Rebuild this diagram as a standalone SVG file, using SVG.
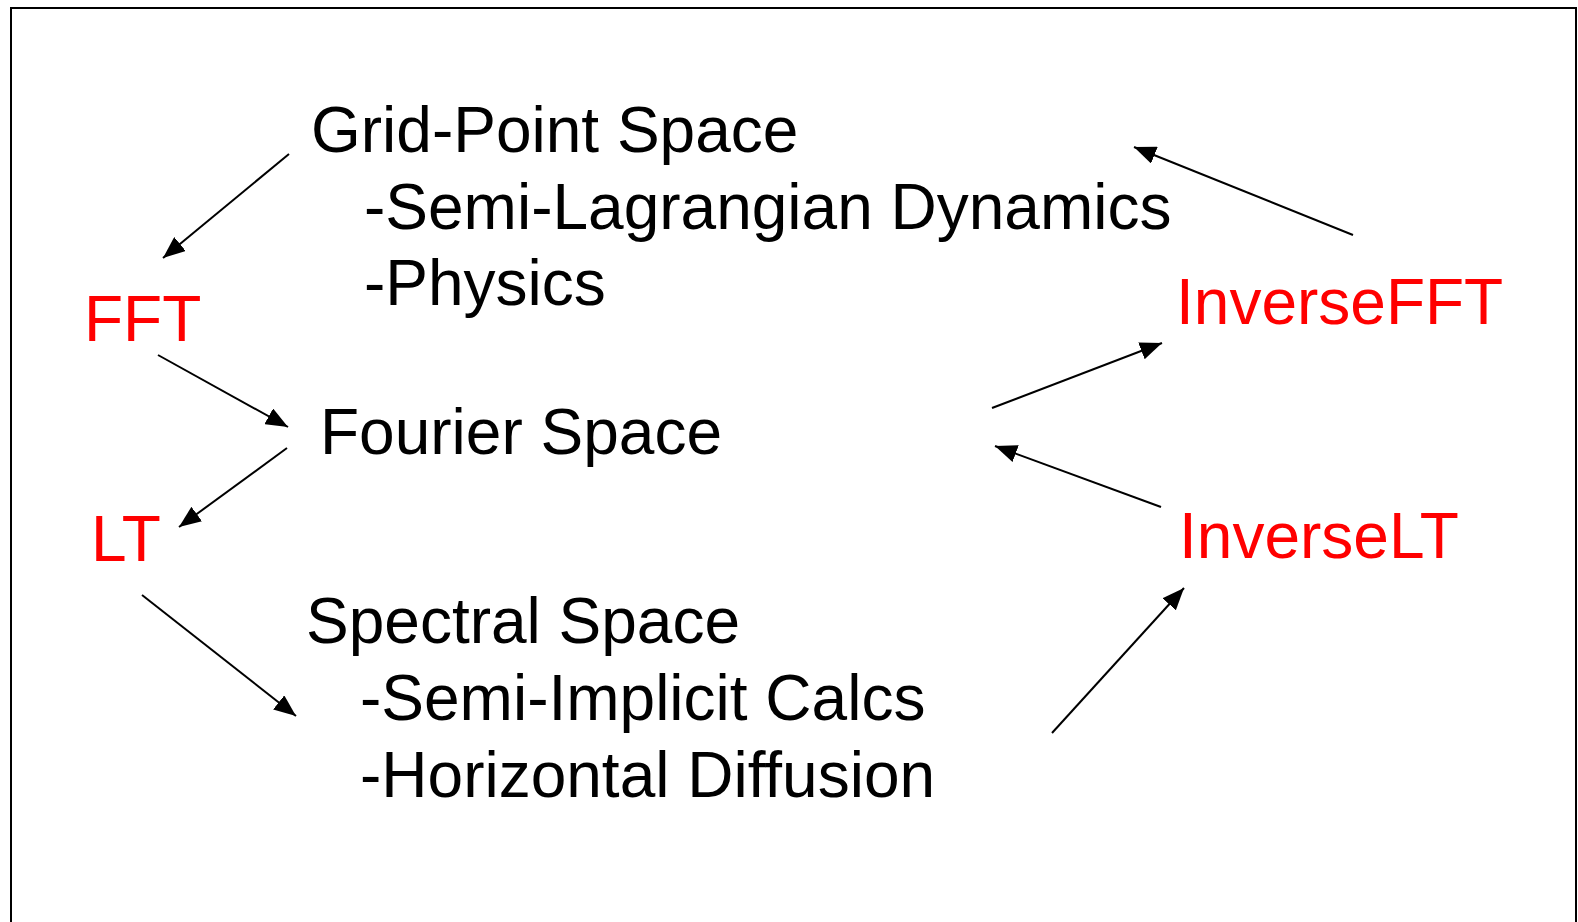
<svg xmlns="http://www.w3.org/2000/svg" width="1578" height="922" viewBox="0 0 1578 922">
<style>
.t{font-family:"Liberation Sans",Arial,sans-serif;font-size:64px;fill:#000}
.r{fill:#ff0000}
.c{stroke:#000;stroke-width:2;fill:none;marker-end:url(#ah)}
</style>
<defs>
<marker id="ah" markerUnits="userSpaceOnUse" markerWidth="24" markerHeight="18" refX="22" refY="9" orient="auto">
<path d="M0,0 L22,9 L0,18 Z" fill="#000"/>
</marker>
</defs>
<rect x="0" y="0" width="1578" height="922" fill="#fff"/>
<rect x="11" y="8" width="1565" height="940" fill="none" stroke="#000" stroke-width="2"/>
<g id="grid">
<text class="t" x="311" y="152">Grid-Point Space</text>
<text class="t" x="364" y="229">-Semi-Lagrangian Dynamics</text>
<text class="t" x="364" y="305">-Physics</text>
</g>
<g id="fft"><text class="t r" x="84" y="341">FFT</text></g>
<g id="fourier"><text class="t" x="320" y="454">Fourier Space</text></g>
<g id="lt"><text class="t r" x="91" y="561">LT</text></g>
<g id="spectral">
<text class="t" x="306" y="643">Spectral Space</text>
<text class="t" x="360" y="720">-Semi-Implicit Calcs</text>
<text class="t" x="360" y="797">-Horizontal Diffusion</text>
</g>
<g id="inversefft"><text class="t r" x="1176" y="324">InverseFFT</text></g>
<g id="inverselt"><text class="t r" x="1179" y="558">InverseLT</text></g>
<g id="connectors">
<line class="c" x1="289" y1="154" x2="163" y2="258"/>
<line class="c" x1="158" y1="355" x2="288" y2="427"/>
<line class="c" x1="287" y1="448" x2="179" y2="527"/>
<line class="c" x1="142" y1="595" x2="296" y2="716"/>
<line class="c" x1="992" y1="408" x2="1162" y2="343"/>
<line class="c" x1="1161" y1="507" x2="995" y2="446"/>
<line class="c" x1="1052" y1="733" x2="1184" y2="588"/>
<line class="c" x1="1353" y1="235" x2="1134" y2="147"/>
</g>
</svg>
